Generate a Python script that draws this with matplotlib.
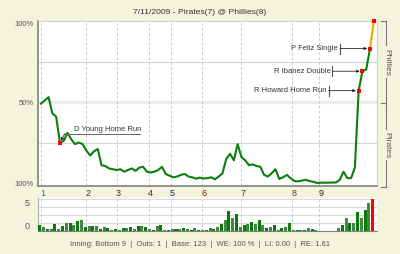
import numpy as np
import matplotlib.pyplot as plt
from matplotlib.lines import Line2D
from matplotlib.transforms import blended_transform_factory

plt.rcParams['font.family'] = ['Liberation Sans', 'DejaVu Sans']

# Phillies win probability (%) after each plate appearance
wp = [49, 51, 53, 43, 41, 25, 26, 31, 27, 24, 25,
      24, 20, 17, 19.5, 21, 11, 10.5, 9, 8.5, 8,
      8.5, 7, 8, 9, 7.5, 9.5, 10, 7, 6.5, 7,
      8, 10, 5.5, 4.5, 3.5, 4, 5, 5.6, 4, 3.5,
      2.7, 3.3, 2.8, 3, 3.5, 2.3, 4, 6, 15, 18,
      14, 24, 16, 14, 11, 11.5, 10.5, 10, 5, 4,
      6, 8.5, 2.5, 3.5, 5, 3, 1.2, 1, 1.5, 2,
      1.2, 0.8, 0, 0.2, 0.2, 0.2, 0.3, 0.3, 2, 7,
      3, 3, 9.5, 57, 69, 70, 83, 100]

# leverage index per plate appearance
li = [1.07, 0.66, 0.41, 0.41, 1.2, 0.41, 0.95, 1.43, 1.38, 1.13, 1.84,
      1.96, 0.77, 0.84, 0.84, 0.84, 0.3, 0.71, 0.54, 0.23, 0.41,
      0.23, 0.48, 0.48, 0.66, 0.41, 0.89, 0.89, 0.66, 0.41, 0.23,
      0.84, 1.07, 0.23, 0.23, 0.3, 0.3, 0.41, 0.59, 0.36, 0.23,
      0.54, 0.23, 0.13, 0.13, 0.48, 0.3, 0.71, 1.3, 1.91, 3.45,
      2.27, 2.98, 0.71, 1.02, 1.25, 1.55, 1.2, 1.91, 1.07, 0.48,
      0.71, 1.02, 0.13, 0.59, 0.66, 1.38, 0.13, 0.09, 0.23, 0.23,
      0.59, 0.3, 0.18, 0.05, 0.05, 0.05, 0.05, 0.04, 0.48, 1.02,
      2.27, 1.38, 1.38, 3.27, 2.27, 3.7, 4.88, 5.66]

innings = ['1', '2', '3', '4', '5', '6', '7', '8', '9']
inning_start = [0, 12, 20, 28.5, 34.3, 42.6, 53, 66.5, 73.5]
inning_colors = ['#1f7f9a', '#333333', '#3a2a2a', '#5a1060', '#1a2a6a',
                 '#7a1a1a', '#333333', '#6a3a3a', '#222222']

events = {5: 'D Young Home Run', 84: 'R Howard Home Run',
          85: 'R Ibanez Double', 87: 'P Feliz Single'}

title = '7/11/2009 - Pirates(7) @ Phillies(8)'
status = 'Inning: Bottom 9  |  Outs: 1  |  Base: 123  |  WE: 100 %  |  LI: 0.00  |  RE: 1.61'

bg = '#f4f3dc'
W, H = 400, 254

fig = plt.figure(figsize=(W / 100, H / 100), dpi=100, facecolor=bg)
ax = fig.add_axes([38 / W, 1 - 186 / H, 339 / W, 165 / H])
axb = fig.add_axes([38 / W, 1 - 231 / H, 339 / W, 33 / H])

x = np.arange(len(wp))
xlim = (-0.79, len(wp) - 1 + 0.85)

# main win probability chart
ax.set_xlim(*xlim)
ax.set_ylim(-1.85, 100)
for v in [25, 75]:
    ax.axhline(v, color='#d4d4d4', lw=0.8, zorder=1)
ax.axhline(50, color='#ececec', lw=2.5, zorder=1)
for p in inning_start:
    ax.axvline(p, color='#cccccc', ls=(0, (3, 2)), lw=0.7, zorder=1)

ax.plot(x[:-1], wp[:-1], color='#0a7f0a', lw=1.5, zorder=3, solid_joinstyle='round')
ax.plot(x[-2:], wp[-2:], color='#ffa500', lw=1.5, zorder=3, clip_on=False)
marked = list(events.keys()) + [len(wp) - 1]
ax.plot(x[marked], np.array(wp)[marked], 's', color='red', ms=2.2, mew=0,
        zorder=5, clip_on=False)

ax.set_xticks([])
ax.set_yticks([0, 50, 100], ['100%', '50%', '100%'])
ax.tick_params(axis='y', length=0, labelsize=5.5, labelcolor='#555555', pad=3)
ax.get_yticklabels()[2].set_va('top')
for s in ['left', 'bottom']:
    ax.spines[s].set_color('#808080')
    ax.spines[s].set_linewidth(1.2)
for s in ['top', 'right']:
    ax.spines[s].set_color('#d0d0d0')
    ax.spines[s].set_linewidth(0.8)


def off(i, v, dx, dy):
    d = ax.transData.transform((i, v)) + np.array([dx, dy])
    return ax.transData.inverted().transform(d)


tcol = '#333333'
fs = 5.5
# D Young annotation (text above, underline, leader to point)
i = 5
p = (i, wp[i])
ax.annotate(events[i], xy=p, xytext=(14, 13.5), textcoords='offset pixels',
            ha='left', va='center', fontsize=fs, color=tcol, zorder=6)
a, b = off(i, wp[i], 5, 9), off(i, wp[i], 80, 9)
ax.plot([a[0], b[0]], [a[1], b[1]], color='#666666', lw=0.7, clip_on=False, zorder=6)
ax.annotate('', xy=p, xytext=(5, 9), textcoords='offset pixels',
            arrowprops=dict(arrowstyle='-|>', color='#222222', lw=0.6,
                            mutation_scale=4, shrinkA=0, shrinkB=1.5), zorder=6)

# right side annotations
for i in [84, 85, 87]:
    p = (i, wp[i])
    a, b = off(i, wp[i], -30, -5), off(i, wp[i], -30, 5)
    ax.plot([a[0], b[0]], [a[1], b[1]], color='#555555', lw=0.8, clip_on=False, zorder=6)
    ax.annotate(events[i], xy=p, xytext=(-32, 0), textcoords='offset pixels',
                ha='right', va='center', fontsize=fs, color=tcol, zorder=6)
    ax.annotate('', xy=p, xytext=(-30, 0), textcoords='offset pixels',
                arrowprops=dict(arrowstyle='-|>', color='#222222', lw=0.6,
                                mutation_scale=4, shrinkA=0, shrinkB=2), zorder=6)

# inning labels between the panels
tr = blended_transform_factory(ax.transData, fig.transFigure)
for lab, p, c in zip(innings, inning_start, inning_colors):
    ax.text(p + 0.45, 1 - 193 / H, lab, transform=tr, ha='center', va='center',
            fontsize=6.5, color=c, clip_on=False)

# leverage bars
axb.set_xlim(*xlim)
axb.set_ylim(0, 5.79)
for v in [1.4, 2.8, 4.2, 5.6]:
    axb.axhline(v, color='#d8d8d8', lw=0.8, zorder=1)
for p in inning_start:
    axb.axvline(p, color='#cccccc', ls=(0, (3, 2)), lw=0.7, zorder=1)
colors = ['#0a7a0a' if k % 2 == 0 else '#3f8a3f' for k in range(len(li))]
colors[-1] = '#ff0000'
axb.bar(x - 0.3, li, width=0.8, color=colors, zorder=3)
axb.set_xticks([])
axb.set_yticks([0, 5], ['0', '5'])
axb.get_yticklabels()[0].set_va('bottom')
axb.tick_params(axis='y', length=0, labelsize=6.5, labelcolor='#555555', pad=6)
axb.spines['bottom'].set_color('#808080')
axb.spines['left'].set_color('#b0b0b0')
axb.spines['top'].set_visible(False)
axb.spines['right'].set_visible(False)

# titles
fig.text(0.5, 1 - 12 / H, title, ha='center', va='center', fontsize=6.1, color='#333333')
fig.text(0.5, 1 - 244 / H, status, ha='center', va='center', fontsize=5.5, color='#555555')


# right-side bracket
def fp(px, py):
    return px / W, 1 - py / H


lc = '#777777'
for seg in [((385.5, 21), (385.5, 186.5)), ((381, 21), (385.5, 21)),
            ((381, 103), (385.5, 103)), ((381, 186.5), (385.5, 186.5))]:
    (x0, y0), (x1, y1) = fp(*seg[0]), fp(*seg[1])
    fig.add_artist(Line2D([x0, x1], [y0, y1], color=lc, lw=0.8))
for lab, py in [('Phillies', 62), ('Pirates', 145)]:
    fx, fy = fp(386.5, py)
    fig.text(fx, fy, lab, rotation=270, ha='center', va='center', fontsize=6,
             color='#555555', bbox=dict(facecolor=bg, edgecolor='none', pad=1.5))

fig.savefig('out.png', dpi=100, facecolor=bg)
